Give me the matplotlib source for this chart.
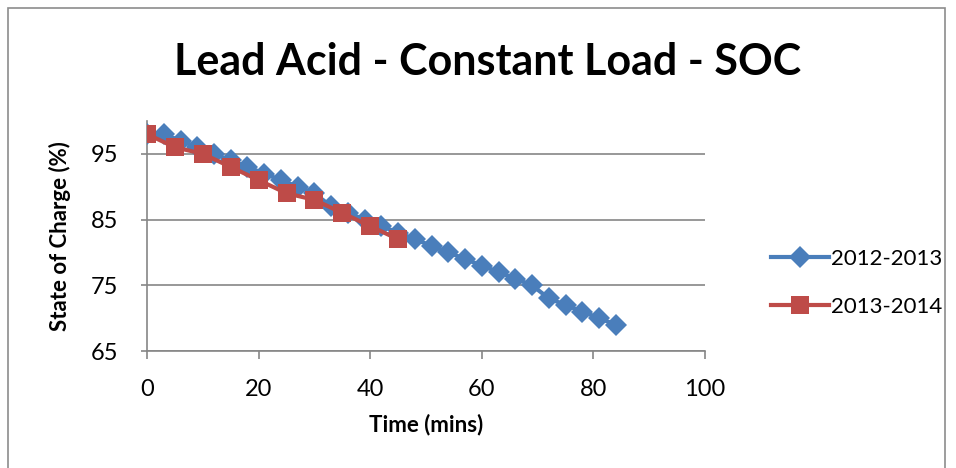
import numpy as np
import matplotlib.pyplot as plt
from matplotlib.patches import Rectangle

plt.rcParams['font.family'] = ['Lato', 'DejaVu Sans']

# 2012-2013 readings, every 3 minutes
time_2012 = [0, 3, 6, 9, 12, 15, 18, 21, 24, 27, 30, 33, 36, 39, 42,
             45, 48, 51, 54, 57, 60, 63, 66, 69, 72, 75, 78, 81, 84]
soc_2012 = [98, 98, 97, 96, 95, 94, 93, 92, 91, 90, 89, 87, 86, 85, 84,
            83, 82, 81, 80, 79, 78, 77, 76, 75, 73, 72, 71, 70, 69]

# 2013-2014 readings, every 5 minutes
time_2013 = [0, 5, 10, 15, 20, 25, 30, 35, 40, 45]
soc_2013 = [98, 96, 95, 93, 91, 89, 88, 86, 84, 82]

x_ticks = [0, 20, 40, 60, 80, 100]
y_ticks = [65, 75, 85, 95]

blue = "#4A7EBB"
red = "#BE4B48"
grid_col = "#868686"

fig = plt.figure(figsize=(9.56, 4.68), dpi=100)
ax = fig.add_axes([0.1538, 0.25, 0.7375 - 0.1538, 0.7415 - 0.25])

# chart border
fig.patches.append(Rectangle((0.008, -0.02), 0.981, 1.003, transform=fig.transFigure,
                             fill=False, edgecolor="#8C8C8C", linewidth=1.2))

ax.plot(time_2012, soc_2012, color=blue, linewidth=3, marker="D",
        markersize=11.5, markeredgewidth=0, label="2012-2013", zorder=3)
ax.plot(time_2013, soc_2013, color=red, linewidth=3, marker="s",
        markersize=13, markeredgewidth=0, label="2013-2014", zorder=4)

ax.set_xlim(0, 100)
ax.set_ylim(65, 100)
ax.set_xticks(x_ticks)
ax.set_yticks(y_ticks)
ax.yaxis.grid(True, color=grid_col, linewidth=1.2)
ax.set_axisbelow(True)
for s in ["top", "right"]:
    ax.spines[s].set_visible(False)
for s in ["left", "bottom"]:
    ax.spines[s].set_color(grid_col)
    ax.spines[s].set_linewidth(1.2)
ax.tick_params(axis="x", direction="out", length=6, width=1.2, color=grid_col,
               labelsize=17, pad=14)
ax.tick_params(axis="y", direction="out", length=4, width=1.2, color=grid_col,
               labelsize=17, pad=17)

ax.set_xlabel("Time (mins)", fontsize=16, fontweight="bold", labelpad=10)
ax.set_ylabel("State of Charge (%)", fontsize=16, fontweight="bold", labelpad=14)

fig.text(0.51, 0.867, "Lead Acid - Constant Load - SOC", fontsize=31,
         fontweight="bold", ha="center", va="center")

ax.legend(loc="center left", bbox_to_anchor=(0.797, 0.395),
          bbox_transform=fig.transFigure, frameon=False,
          fontsize=16, handlelength=2.6, labelspacing=1.25, handletextpad=0.1,
          borderaxespad=0)

fig.savefig("out.png", dpi=100)
